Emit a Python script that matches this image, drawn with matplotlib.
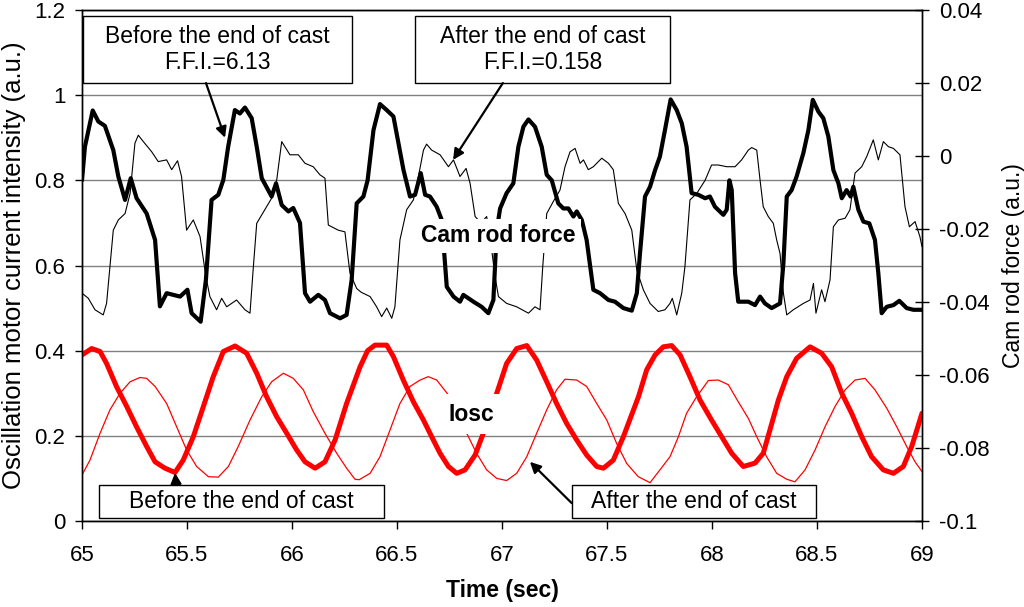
import matplotlib
matplotlib.use("Agg")
import matplotlib.pyplot as plt
from matplotlib.patches import Rectangle

plt.rcParams['font.family'] = ['Liberation Sans', 'DejaVu Sans']

# =============================================================================
# DATOS (eje izquierdo, unidades del eje izquierdo)
# =============================================================================

# Cam rod force, antes del fin de colada (trazo grueso)
t_cam_antes = [65.0, 65.014, 65.051, 65.078, 65.109, 65.149, 65.173, 65.205, 65.232, 65.26,
               65.308, 65.348, 65.371, 65.403, 65.467, 65.502, 65.522, 65.565, 65.59, 65.617,
               65.649, 65.673, 65.696, 65.728, 65.752, 65.776, 65.808, 65.832, 65.856, 65.903,
               65.924, 65.951, 65.983, 66.006, 66.038, 66.062, 66.086, 66.125, 66.157, 66.181,
               66.229, 66.26, 66.284, 66.308, 66.34, 66.36, 66.388, 66.419, 66.451, 66.483,
               66.507, 66.531, 66.562, 66.586, 66.613, 66.634, 66.657, 66.689, 66.713, 66.737,
               66.769, 66.8, 66.816, 66.864, 66.903, 66.935, 66.959, 66.975, 66.991, 67.022,
               67.054, 67.078, 67.102, 67.126, 67.157, 67.189, 67.213, 67.237, 67.268, 67.292,
               67.316, 67.34, 67.356, 67.38, 67.403, 67.435, 67.467, 67.507, 67.538, 67.578,
               67.618, 67.642, 67.657, 67.681, 67.705, 67.729, 67.752, 67.776, 67.803, 67.832,
               67.856, 67.879, 67.903, 67.935, 67.967, 67.99, 68.014, 68.054, 68.07, 68.083,
               68.094, 68.11, 68.125, 68.173, 68.205, 68.229, 68.252, 68.284, 68.324, 68.34,
               68.356, 68.379, 68.403, 68.435, 68.459, 68.48, 68.507, 68.53, 68.554, 68.578,
               68.602, 68.618, 68.641, 68.66, 68.673, 68.697, 68.721, 68.749, 68.776, 68.792,
               68.808, 68.832, 68.864, 68.892, 68.927, 68.959, 69.0]
v_cam_antes = [0.80, 0.879, 0.964, 0.938, 0.928, 0.871, 0.809, 0.754, 0.805, 0.758,
               0.722, 0.66, 0.504, 0.535, 0.527, 0.543, 0.488, 0.468, 0.566, 0.754,
               0.766, 0.801, 0.879, 0.965, 0.957, 0.971, 0.946, 0.879, 0.805, 0.762,
               0.793, 0.742, 0.727, 0.735, 0.70, 0.535, 0.515, 0.531, 0.519, 0.488,
               0.476, 0.484, 0.566, 0.746, 0.762, 0.80, 0.918, 0.979, 0.965, 0.95,
               0.887, 0.824, 0.762, 0.766, 0.817, 0.766, 0.762, 0.738, 0.707, 0.55,
               0.527, 0.515, 0.531, 0.515, 0.503, 0.488, 0.519, 0.683, 0.734, 0.77,
               0.793, 0.879, 0.926, 0.943, 0.926, 0.879, 0.813, 0.80, 0.746, 0.734,
               0.734, 0.715, 0.727, 0.707, 0.66, 0.543, 0.535, 0.519, 0.515, 0.50,
               0.494, 0.535, 0.628, 0.762, 0.785, 0.824, 0.856, 0.918, 0.990, 0.965,
               0.934, 0.879, 0.770, 0.766, 0.758, 0.762, 0.738, 0.719, 0.731, 0.80,
               0.777, 0.582, 0.515, 0.515, 0.507, 0.527, 0.511, 0.50, 0.511, 0.605,
               0.762, 0.777, 0.809, 0.864, 0.918, 0.989, 0.961, 0.946, 0.903, 0.824,
               0.793, 0.758, 0.777, 0.762, 0.785, 0.731, 0.703, 0.699, 0.66, 0.582,
               0.488, 0.503, 0.507, 0.517, 0.50, 0.496, 0.496]

# Cam rod force, después del fin de colada (trazo fino)
t_cam_despues = [65.0, 65.03, 65.062, 65.101, 65.117, 65.149, 65.173, 65.205, 65.229, 65.252,
                 65.268, 65.292, 65.332, 65.363, 65.403, 65.427, 65.455, 65.474, 65.498, 65.53,
                 65.562, 65.59, 65.609, 65.641, 65.665, 65.689, 65.736, 65.776, 65.80, 65.816,
                 65.832, 65.856, 65.903, 65.927, 65.951, 65.99, 66.03, 66.062, 66.101, 66.133,
                 66.157, 66.173, 66.22, 66.252, 66.276, 66.308, 66.33, 66.372, 66.403, 66.427,
                 66.451, 66.475, 66.49, 66.514, 66.546, 66.578, 66.602, 66.626, 66.641, 66.665,
                 66.705, 66.745, 66.769, 66.80, 66.829, 66.848, 66.872, 66.90, 66.927, 66.95,
                 66.967, 66.983, 67.022, 67.07, 67.126, 67.157, 67.181, 67.194, 67.213, 67.244,
                 67.276, 67.30, 67.324, 67.348, 67.372, 67.388, 67.411, 67.435, 67.475, 67.507,
                 67.53, 67.554, 67.586, 67.618, 67.642, 67.673, 67.705, 67.744, 67.776, 67.80,
                 67.811, 67.832, 67.856, 67.871, 67.895, 67.927, 67.967, 67.998, 68.03, 68.07,
                 68.11, 68.141, 68.173, 68.189, 68.213, 68.229, 68.244, 68.268, 68.292, 68.308,
                 68.324, 68.34, 68.356, 68.387, 68.435, 68.467, 68.483, 68.495, 68.522, 68.538,
                 68.562, 68.578, 68.602, 68.634, 68.657, 68.681, 68.713, 68.737, 68.768, 68.792,
                 68.816, 68.84, 68.864, 68.895, 68.919, 68.94, 68.967, 68.99, 69.0]
v_cam_despues = [0.535, 0.523, 0.496, 0.484, 0.511, 0.683, 0.707, 0.722, 0.769, 0.887,
                 0.906, 0.891, 0.867, 0.844, 0.848, 0.825, 0.846, 0.809, 0.683, 0.707,
                 0.668, 0.574, 0.527, 0.496, 0.523, 0.503, 0.519, 0.496, 0.488, 0.597,
                 0.699, 0.719, 0.758, 0.80, 0.891, 0.86, 0.86, 0.84, 0.832, 0.813,
                 0.805, 0.695, 0.683, 0.679, 0.582, 0.546, 0.537, 0.527, 0.503, 0.48,
                 0.50, 0.476, 0.503, 0.66, 0.731, 0.754, 0.809, 0.871, 0.885, 0.871,
                 0.86, 0.832, 0.848, 0.809, 0.828, 0.793, 0.715, 0.70, 0.715, 0.64,
                 0.574, 0.527, 0.511, 0.503, 0.488, 0.503, 0.496, 0.597, 0.722, 0.75,
                 0.777, 0.832, 0.867, 0.875, 0.84, 0.848, 0.825, 0.832, 0.852, 0.84,
                 0.825, 0.746, 0.722, 0.683, 0.589, 0.543, 0.511, 0.492, 0.496, 0.511,
                 0.523, 0.484, 0.535, 0.597, 0.754, 0.769, 0.80, 0.836, 0.836, 0.832,
                 0.832, 0.848, 0.871, 0.877, 0.871, 0.80, 0.738, 0.715, 0.699, 0.66,
                 0.628, 0.535, 0.484, 0.496, 0.511, 0.519, 0.558, 0.488, 0.543, 0.515,
                 0.566, 0.691, 0.707, 0.711, 0.731, 0.817, 0.832, 0.856, 0.895, 0.848,
                 0.891, 0.879, 0.875, 0.86, 0.738, 0.691, 0.703, 0.668, 0.644]

# Iosc, antes del fin de colada (trazo grueso rojo)
t_iosc_antes = [65.0, 65.046, 65.086, 65.117, 65.165, 65.213, 65.26, 65.308, 65.348, 65.395,
                65.443, 65.482, 65.53, 65.578, 65.625, 65.673, 65.729, 65.784, 65.832, 65.879,
                65.927, 65.975, 66.022, 66.062, 66.11, 66.157, 66.205, 66.26, 66.324, 66.36,
                66.395, 66.451, 66.483, 66.53, 66.578, 66.626, 66.665, 66.705, 66.745, 66.784,
                66.824, 66.872, 66.911, 66.975, 67.022, 67.07, 67.118, 67.165, 67.213, 67.26,
                67.308, 67.356, 67.403, 67.451, 67.483, 67.53, 67.578, 67.65, 67.689, 67.729,
                67.768, 67.808, 67.848, 67.895, 67.943, 67.998, 68.046, 68.094, 68.149, 68.205,
                68.244, 68.276, 68.316, 68.356, 68.403, 68.467, 68.522, 68.57, 68.618, 68.665,
                68.713, 68.76, 68.816, 68.864, 68.911, 68.951, 69.0]
v_iosc_antes = [0.390, 0.405, 0.398, 0.370, 0.315, 0.269, 0.221, 0.175, 0.139, 0.124,
                0.114, 0.143, 0.198, 0.269, 0.339, 0.398, 0.411, 0.394, 0.347, 0.292,
                0.245, 0.206, 0.167, 0.139, 0.124, 0.139, 0.190, 0.276, 0.362, 0.40,
                0.413, 0.413, 0.386, 0.331, 0.280, 0.237, 0.198, 0.159, 0.128, 0.112,
                0.120, 0.155, 0.206, 0.300, 0.370, 0.405, 0.412, 0.378, 0.327, 0.276,
                0.229, 0.190, 0.155, 0.128, 0.124, 0.143, 0.198, 0.292, 0.355, 0.390,
                0.409, 0.412, 0.390, 0.339, 0.284, 0.237, 0.198, 0.159, 0.128, 0.136,
                0.159, 0.214, 0.284, 0.339, 0.382, 0.409, 0.394, 0.362, 0.300, 0.253,
                0.198, 0.151, 0.120, 0.112, 0.128, 0.175, 0.253]

# Iosc, después del fin de colada (trazo fino rojo)
t_iosc_despues = [65.0, 65.038, 65.086, 65.133, 65.181, 65.229, 65.276, 65.308, 65.348, 65.403,
                  65.451, 65.498, 65.546, 65.602, 65.649, 65.697, 65.744, 65.80, 65.856, 65.903,
                  65.959, 66.006, 66.054, 66.101, 66.157, 66.213, 66.26, 66.30, 66.32, 66.372,
                  66.419, 66.467, 66.514, 66.562, 66.61, 66.649, 66.689, 66.745, 66.79, 66.832,
                  66.879, 66.927, 66.975, 67.022, 67.07, 67.118, 67.165, 67.213, 67.26, 67.30,
                  67.356, 67.403, 67.451, 67.499, 67.546, 67.594, 67.649, 67.705, 67.752, 67.80,
                  67.84, 67.879, 67.927, 67.983, 68.03, 68.078, 68.125, 68.173, 68.213, 68.26,
                  68.308, 68.356, 68.395, 68.443, 68.491, 68.538, 68.586, 68.634, 68.681, 68.729,
                  68.776, 68.832, 68.88, 68.927, 68.967, 69.0]
v_iosc_despues = [0.108, 0.143, 0.206, 0.261, 0.300, 0.327, 0.337, 0.335, 0.316, 0.276,
                  0.221, 0.167, 0.128, 0.104, 0.103, 0.128, 0.175, 0.237, 0.292, 0.327,
                  0.347, 0.335, 0.308, 0.257, 0.206, 0.159, 0.124, 0.098, 0.097, 0.112,
                  0.151, 0.214, 0.276, 0.316, 0.331, 0.339, 0.331, 0.296, 0.25, 0.206,
                  0.159, 0.120, 0.100, 0.095, 0.112, 0.151, 0.206, 0.261, 0.308, 0.333,
                  0.331, 0.316, 0.276, 0.237, 0.182, 0.135, 0.104, 0.090, 0.120, 0.151,
                  0.198, 0.253, 0.292, 0.330, 0.331, 0.320, 0.280, 0.241, 0.198, 0.151,
                  0.112, 0.098, 0.092, 0.120, 0.167, 0.221, 0.269, 0.308, 0.331, 0.335,
                  0.308, 0.265, 0.221, 0.175, 0.139, 0.116]

# Ejes y etiquetas
x_ticks = [65, 65.5, 66, 66.5, 67, 67.5, 68, 68.5, 69]
x_ticklabels = ['65', '65.5', '66', '66.5', '67', '67.5', '68', '68.5', '69']
y_ticks = [0, 0.2, 0.4, 0.6, 0.8, 1.0, 1.2]
y_ticklabels = ['0', '0.2', '0.4', '0.6', '0.8', '1', '1.2']
y2_ticks = [-0.1, -0.08, -0.06, -0.04, -0.02, 0.0, 0.02, 0.04]
y2_ticklabels = ['-0.1', '-0.08', '-0.06', '-0.04', '-0.02', '0', '0.02', '0.04']

# Puntos señalados por las flechas (tiempo, valor eje izquierdo)
flecha_antes_cam = (65.681, 0.90)
flecha_despues_cam = (66.767, 0.848)
flecha_antes_iosc = (65.443, 0.113)
flecha_despues_iosc = (67.133, 0.139)

# =============================================================================
# FIGURA
# =============================================================================

fig = plt.figure(figsize=(10.24, 6.07), dpi=100)
ax = fig.add_axes([82 / 1024, 1 - 521 / 607, 840 / 1024, 511 / 607])
ax2 = ax.twinx()

ax.set_xlim(65, 69)
ax.set_ylim(0, 1.2)
ax2.set_ylim(-0.1, 0.04)

ax.yaxis.grid(True, color='#808080', linewidth=1.0)
ax.set_axisbelow(True)

estilo = dict(solid_joinstyle='round', solid_capstyle='round', zorder=3)
ax.plot(t_cam_despues, v_cam_despues, color='black', linewidth=0.8, **estilo)
ax.plot(t_cam_antes, v_cam_antes, color='black', linewidth=3.0, **estilo)
ax.plot(t_iosc_despues, v_iosc_despues, color='red', linewidth=0.9, **estilo)
ax.plot(t_iosc_antes, v_iosc_antes, color='red', linewidth=3.6, **estilo)

ax.set_xticks(x_ticks)
ax.set_xticklabels(x_ticklabels)
ax.set_yticks(y_ticks)
ax.set_yticklabels(y_ticklabels)
ax2.set_yticks(y2_ticks)
ax2.set_yticklabels(y2_ticklabels)

ax.tick_params(axis='x', direction='out', length=6, width=1, pad=11, labelsize=16)
ax.tick_params(axis='y', direction='out', length=5, width=1, pad=7, labelsize=16)
ax2.tick_params(axis='y', direction='inout', length=10.5, width=1, pad=7, labelsize=16)

for a in (ax, ax2):
    for s in a.spines.values():
        s.set_linewidth(1.0)

ax.set_xlabel('Time (sec)', fontsize=16.5, fontweight='bold', labelpad=10)
ax.set_ylabel('Oscillation motor current intensity (a.u.)', fontsize=18.5, labelpad=6)
ax2.set_ylabel('Cam rod force (a.u.)', fontsize=16.5, labelpad=9)

# Etiquetas interiores con fondo blanco
ax.text(0.495, 0.558, 'Cam rod force', transform=ax.transAxes, fontsize=16.5,
        fontweight='bold', ha='center', va='center', zorder=6,
        bbox=dict(facecolor='white', edgecolor='none', pad=4))
ax.text(0.464, 0.209, 'Iosc', transform=ax.transAxes, fontsize=16.5,
        fontweight='bold', ha='center', va='center', zorder=6,
        bbox=dict(facecolor='white', edgecolor='none', pad=6))

# Cajas de anotación (coordenadas de ejes)
cajas = [
    (0.001, 0.857, 0.321, 0.131, 'Before the end of cast\nF.F.I.=6.13'),
    (0.396, 0.857, 0.304, 0.131, 'After the end of cast\nF.F.I.=0.158'),
    (0.020, 0.006, 0.340, 0.065, 'Before the end of cast'),
    (0.583, 0.006, 0.291, 0.065, 'After the end of cast'),
]
for x0, y0, w, h, txt in cajas:
    ax.add_patch(Rectangle((x0, y0), w, h, transform=ax.transAxes, facecolor='white',
                           edgecolor='black', linewidth=1.0, zorder=7, clip_on=False))
    ax.text(x0 + w / 2, y0 + h / 2, txt, transform=ax.transAxes, fontsize=16.5,
            ha='center', va='center', linespacing=1.15, zorder=8)

flechas = [
    (flecha_antes_cam, (0.1476, 0.857)),
    (flecha_despues_cam, (0.501, 0.857)),
    (flecha_antes_iosc, (0.112, 0.0705)),
    (flecha_despues_iosc, (0.583, 0.035)),
]
for punta, cola in flechas:
    ax.annotate('', xy=punta, xycoords='data', xytext=cola, textcoords='axes fraction',
                arrowprops=dict(arrowstyle='-|>', color='black', lw=1.6,
                                mutation_scale=16, shrinkA=0, shrinkB=0), zorder=9)

fig.savefig('out.png', dpi=100)
